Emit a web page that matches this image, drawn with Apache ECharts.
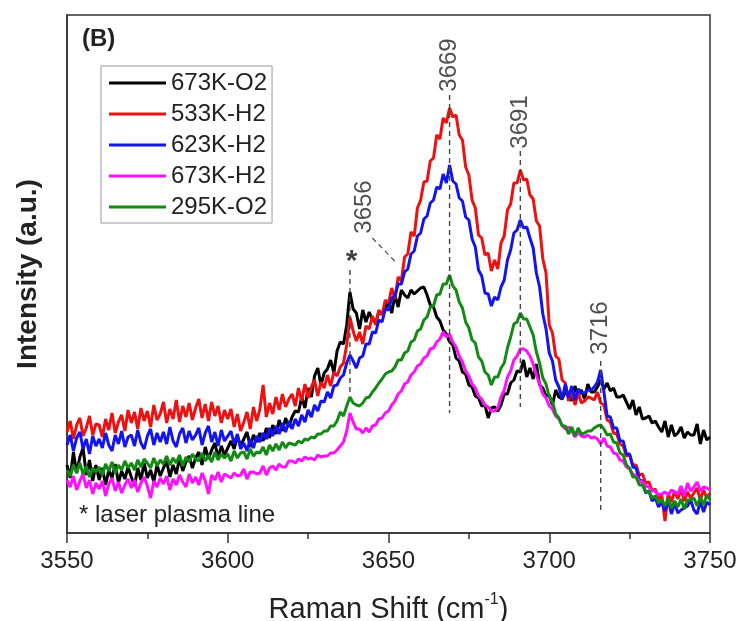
<!DOCTYPE html>
<html>
<head>
<meta charset="utf-8">
<script src="https://cdn.jsdelivr.net/npm/echarts@6/dist/echarts.min.js"></script>
<style>
  html, body { margin: 0; padding: 0; background: #fff; }
  #chart { width: 739px; height: 621px; }
</style>
</head>
<body>
<div id="chart"></div>
<script>
// Raman spectra in the O-H stretching region, 1 cm^-1 sampling from 3550 to 3750
const shiftStart = 3550;
const shiftEnd = 3750;

const seriesNames = ['673K-O2', '533K-H2', '623K-H2', '673K-H2', '295K-O2'];
const seriesColors = ['#000000', '#ee1111', '#1414ee', '#ff11ff', '#138a13'];

const intensity673KO2 = [
  68, 55, 81, 60, 76, 85, 58, 73, 52, 68,
  53, 65, 48, 63, 55, 69, 50, 62, 54, 66,
  56, 47, 65, 53, 70, 55, 63, 51, 68, 57,
  65, 72, 56, 68, 59, 75, 62, 71, 77, 65,
  75, 81, 68, 86, 74, 83, 90, 75, 87, 78,
  85, 92, 84, 97, 87, 94, 101, 86, 98, 91,
  100, 92, 105, 95, 108, 99, 113, 102, 115, 106,
  116, 122, 121, 136, 125, 145, 136, 157, 165, 148,
  160, 164, 173, 160, 182, 191, 189, 208, 241, 224,
  220, 204, 223, 211, 221, 213, 210, 221, 219, 224,
  232, 220, 238, 226, 243, 238, 235, 243, 239, 242,
  245, 246, 238, 228, 226, 216, 212, 203, 199, 191,
  188, 175, 172, 161, 159, 148, 146, 137, 135, 127,
  128, 115, 125, 126, 122, 128, 139, 139, 150, 153,
  162, 161, 173, 156, 165, 154, 169, 148, 145, 137,
  138, 128, 143, 136, 134, 141, 140, 132, 147, 137,
  143, 134, 149, 141, 141, 146, 153, 144, 150, 142,
  145, 136, 136, 138, 131, 124, 133, 118, 126, 114,
  115, 117, 110, 112, 106, 101, 112, 96, 108, 97,
  100, 106, 95, 101, 98, 98, 109, 89, 103, 93,
  96
];

const intensity533KH2 = [
  101, 112, 94, 108, 115, 97, 105, 117, 98, 109,
  108, 96, 114, 103, 120, 100, 111, 118, 102, 123,
  110, 121, 104, 125, 112, 122, 106, 128, 113, 119,
  131, 110, 124, 114, 133, 111, 127, 116, 130, 113,
  125, 134, 115, 129, 112, 131, 117, 127, 110, 123,
  114, 124, 106, 119, 102, 111, 121, 104, 126, 112,
  124, 148, 116, 130, 119, 136, 123, 139, 126, 134,
  139, 127, 145, 132, 149, 135, 146, 153, 137, 151,
  145, 158, 147, 161, 157, 166, 170, 188, 216, 202,
  192, 201, 189, 207, 204, 217, 208, 223, 218, 233,
  230, 245, 234, 256, 252, 276, 279, 301, 297, 325,
  333, 351, 352, 372, 375, 398, 394, 415, 410, 425,
  416, 418, 398, 393, 366, 358, 333, 325, 298, 295,
  278, 280, 262, 273, 264, 290, 297, 323, 329, 350,
  350, 363, 353, 354, 338, 334, 312, 307, 274, 260,
  208, 200, 177, 174, 153, 150, 132, 143, 128, 140,
  130, 132, 136, 135, 133, 141, 130, 128, 113, 111,
  100, 99, 89, 87, 77, 78, 68, 68, 58, 59,
  50, 51, 42, 44, 34, 38, 12, 40, 31, 42,
  34, 44, 32, 41, 35, 40, 45, 33, 43, 35,
  40
];

const intensity623KH2 = [
  88, 98, 82, 95, 101, 84, 94, 79, 97, 87,
  94, 85, 100, 88, 82, 98, 89, 102, 86, 96,
  98, 87, 103, 90, 84, 97, 104, 88, 100, 91,
  101, 89, 106, 92, 86, 99, 105, 90, 102, 93,
  98, 105, 88, 100, 107, 91, 101, 87, 103, 92,
  97, 102, 89, 99, 84, 90, 82, 94, 85, 97,
  91, 100, 94, 105, 97, 107, 99, 110, 101, 112,
  104, 114, 107, 118, 111, 123, 116, 128, 122, 132,
  131, 141, 135, 147, 148, 155, 158, 170, 178, 172,
  165, 175, 177, 189, 189, 201, 200, 213, 211, 224,
  223, 235, 237, 249, 249, 261, 264, 279, 282, 297,
  300, 314, 317, 330, 333, 346, 344, 359, 350, 368,
  352, 349, 335, 332, 316, 313, 294, 286, 263, 257,
  240, 239, 227, 236, 233, 246, 253, 273, 283, 300,
  303, 313, 305, 306, 295, 285, 260, 246, 219, 204,
  180, 172, 153, 146, 134, 149, 135, 147, 133, 144,
  140, 140, 143, 143, 146, 151, 163, 141, 117, 116,
  105, 105, 92, 92, 79, 79, 66, 65, 53, 52,
  40, 42, 32, 35, 26, 31, 22, 33, 19, 30,
  20, 23, 25, 27, 33, 23, 19, 32, 21, 31,
  28
];

const intensity673KH2 = [
  53, 46, 57, 43, 52, 59, 45, 53, 39, 50,
  44, 52, 37, 49, 55, 42, 51, 40, 48, 54,
  45, 53, 41, 50, 56, 47, 35, 52, 46, 55,
  49, 57, 43, 54, 48, 58, 51, 46, 59, 50,
  56, 48, 60, 52, 39, 58, 53, 61, 51, 59,
  57, 55, 60, 57, 58, 64, 54, 61, 61, 59,
  60, 67, 58, 65, 67, 63, 69, 66, 66, 72,
  72, 70, 74, 72, 76, 74, 75, 73, 78, 76,
  77, 77, 80, 80, 83, 87, 91, 102, 120, 111,
  104, 104, 100, 105, 101, 107, 108, 114, 115, 120,
  122, 128, 132, 139, 142, 149, 151, 158, 161, 167,
  169, 175, 177, 184, 185, 191, 194, 201, 196, 199,
  191, 186, 177, 171, 162, 157, 149, 145, 137, 134,
  128, 126, 122, 122, 125, 136, 143, 156, 162, 173,
  177, 184, 184, 182, 177, 169, 158, 149, 139, 135,
  127, 124, 117, 114, 108, 104, 106, 102, 96, 101,
  97, 96, 98, 95, 96, 94, 89, 95, 87, 86,
  80, 79, 73, 72, 66, 64, 59, 57, 52, 51,
  47, 46, 42, 42, 38, 39, 41, 38, 43, 41,
  39, 47, 37, 50, 42, 46, 51, 42, 46, 45,
  43
];

const intensity295KO2 = [
  63, 57, 68, 60, 70, 59, 67, 56, 65, 61,
  66, 58, 69, 62, 71, 60, 68, 63, 72, 65,
  70, 63, 73, 66, 74, 70, 65, 75, 67, 73,
  69, 77, 68, 75, 70, 78, 67, 76, 71, 79,
  74, 72, 80, 72, 78, 71, 81, 73, 79, 75,
  79, 72, 82, 75, 80, 81, 74, 84, 77, 81,
  80, 86, 78, 88, 82, 89, 83, 91, 85, 90,
  89, 88, 92, 90, 94, 93, 96, 95, 99, 99,
  102, 102, 107, 107, 112, 121, 117, 127, 136, 130,
  128, 127, 130, 135, 136, 141, 145, 150, 154, 159,
  161, 162, 166, 173, 173, 180, 182, 191, 193, 202,
  204, 213, 216, 226, 227, 238, 239, 249, 249, 258,
  247, 243, 231, 225, 211, 205, 193, 190, 176, 172,
  161, 158, 148, 156, 156, 165, 170, 185, 196, 209,
  211, 220, 214, 214, 206, 198, 181, 170, 155, 149,
  136, 131, 119, 115, 107, 107, 99, 106, 97, 105,
  99, 100, 102, 102, 105, 107, 108, 104, 98, 99,
  91, 90, 80, 78, 68, 65, 56, 56, 48, 48,
  41, 42, 35, 37, 30, 33, 27, 35, 25, 32,
  26, 34, 24, 33, 33, 35, 27, 36, 28, 38,
  33
];

const xTickValues = [3550, 3600, 3650, 3700, 3750];

// Assigned band positions (cm^-1)
const bandLabels = ['3656', '3669', '3691', '3716'];
const bandPositions = [3656, 3669, 3691, 3716];
const plasmaLine = 3638;

const spectra = [intensity673KO2, intensity533KH2, intensity623KH2, intensity673KH2, intensity295KO2];

const FONT = '"Liberation Sans", Arial, Helvetica, sans-serif';

function pairs(values) {
  const out = [];
  for (let i = 0; i < values.length; i++) out.push([shiftStart + i, values[i]]);
  return out;
}

// Dashed guide segments (wavenumber, intensity) and rotated label anchors
const guides = [
  { x: plasmaLine, from: 263, to: 138 },
  { x: bandPositions[1], from: 438, to: 120 },
  { x: bandPositions[2], from: 382, to: 126 },
  { x: bandPositions[3], from: 172, to: 21 }
];
const leader3656 = [[3645.0, 295], [3652.5, 270]];
const labelAnchors = [
  { value: [3642.5, 326], text: bandLabels[0] },
  { value: [bandPositions[1], 468], text: bandLabels[1] },
  { value: [bandPositions[2], 411], text: bandLabels[2] },
  { value: [bandPositions[3], 205], text: bandLabels[3] }
];

const lineSeries = spectra.map((vals, i) => ({
  name: seriesNames[i],
  type: 'line',
  data: pairs(vals),
  showSymbol: false,
  symbol: 'none',
  color: seriesColors[i],
  lineStyle: { width: 3, color: seriesColors[i] },
  silent: true,
  z: 2 + i
}));

const guideSeries = guides.map(g => ({
  type: 'line',
  data: [[g.x, g.from], [g.x, g.to]],
  symbol: 'none',
  silent: true,
  lineStyle: { color: '#444', width: 1.4, type: [5, 4] },
  z: 10
}));

guideSeries.push({
  type: 'line',
  data: leader3656,
  symbol: 'none',
  silent: true,
  lineStyle: { color: '#444', width: 1.2, type: [5, 4] },
  z: 10
});

const labelSeries = {
  type: 'scatter',
  symbolSize: 0,
  silent: true,
  z: 11,
  data: labelAnchors.map(a => ({
    value: a.value,
    label: {
      show: true,
      position: 'inside',
      rotate: 90,
      formatter: a.text,
      color: '#222',
      fontSize: 24,
      fontFamily: FONT
    }
  })).concat([{
    value: [plasmaLine + 0.5, 271],
    label: {
      show: true,
      position: 'inside',
      formatter: '*',
      color: '#111',
      fontSize: 30,
      fontWeight: 'bold',
      fontFamily: FONT
    }
  }])
};

const chart = echarts.init(document.getElementById('chart'), null, { renderer: 'canvas' });

chart.setOption({
  animation: false,
  backgroundColor: '#fff',
  title: [
    {
      text: '(B)',
      left: 82,
      top: 27,
      padding: 0,
      textStyle: { fontSize: 24, fontWeight: 'bold', color: '#222', fontFamily: FONT }
    },
    {
      text: '* laser plasma line',
      left: 79,
      top: 503,
      padding: 0,
      textStyle: { fontSize: 24, fontWeight: 'normal', color: '#222', fontFamily: FONT }
    }
  ],
  legend: {
    data: seriesNames,
    orient: 'vertical',
    left: 101,
    top: 66,
    icon: 'rect',
    itemWidth: 57,
    itemHeight: 3,
    itemGap: 7,
    padding: [5, 5, 4, 8],
    borderColor: '#999',
    borderWidth: 1,
    textStyle: { fontSize: 24, color: '#222', fontFamily: FONT },
    selectedMode: false
  },
  grid: {
    left: 67,
    right: 29,
    top: 15,
    bottom: 88,
    show: true,
    borderColor: '#333',
    borderWidth: 1.5,
    outerBoundsMode: 'none'
  },
  xAxis: {
    type: 'value',
    min: xTickValues[0],
    max: xTickValues[xTickValues.length - 1],
    interval: 50,
    name: 'Raman Shift (cm{sup|-1})',
    nameLocation: 'middle',
    nameGap: 59,
    nameTextStyle: {
      fontSize: 29,
      color: '#222',
      fontFamily: FONT,
      lineHeight: 36,
      rich: {
        sup: { fontSize: 16, verticalAlign: 'top', lineHeight: 36, color: '#222', fontFamily: FONT }
      }
    },
    axisLine: { show: true, lineStyle: { color: '#333', width: 1.5 } },
    axisTick: { show: true, inside: false, length: 10, lineStyle: { color: '#333', width: 1.5 } },
    minorTick: { show: true, splitNumber: 2, length: 6, lineStyle: { color: '#333', width: 1.5 } },
    axisLabel: {
      fontSize: 24, color: '#222', fontFamily: FONT, margin: 16,
      formatter: v => String(v)
    },
    splitLine: { show: false }
  },
  yAxis: {
    type: 'value',
    min: 0,
    max: 518,
    name: 'Intensity (a.u.)',
    nameLocation: 'middle',
    nameGap: 25,
    nameTextStyle: { fontSize: 28, fontWeight: 'bold', color: '#222', fontFamily: FONT },
    axisLine: { show: true, lineStyle: { color: '#333', width: 1.5 } },
    axisTick: { show: false },
    axisLabel: { show: false },
    splitLine: { show: false }
  },
  series: lineSeries.concat(guideSeries, [labelSeries])
});
</script>
</body>
</html>
